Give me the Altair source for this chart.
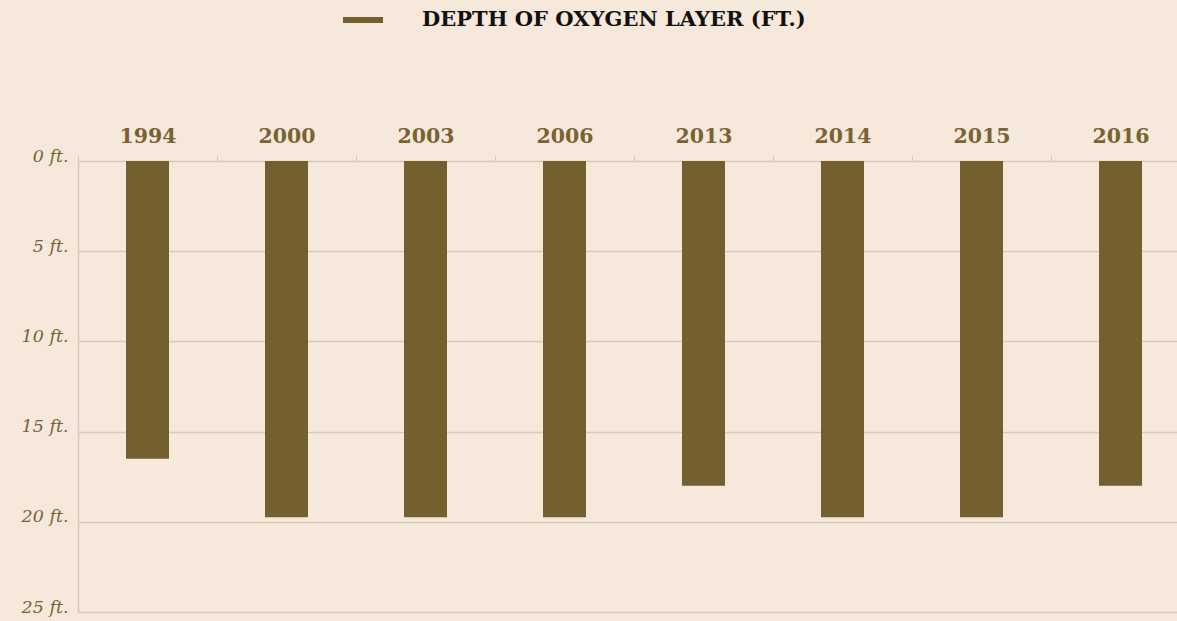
import altair as alt
import pandas as pd

years = ["1994", "2000", "2003", "2006", "2013", "2014", "2015", "2016"]
depths = [16.5, 19.75, 19.75, 19.75, 18, 19.75, 19.75, 18]
series_name = "DEPTH OF OXYGEN LAYER (FT.)"
y_ticks = [0, 5, 10, 15, 20, 25]

df = pd.DataFrame({"year": years, "depth": depths, "series": [series_name] * len(years)})

BAR = "#745f2e"
LABEL = "#7a6232"
GRID = "#d8cab8"
BG = "#f6e8da"

chart = alt.Chart(df).mark_bar(width=43).encode(
    x=alt.X(
        "year:N",
        sort=years,
        scale=alt.Scale(range=[0, 1112], paddingInner=0, paddingOuter=0),
        axis=alt.Axis(
            orient="top",
            title=None,
            labelAngle=0,
            labelFont="DejaVu Serif",
            labelFontWeight="bold",
            labelFontSize=20.5,
            labelColor=LABEL,
            labelBaseline="alphabetic",
            labelPadding=13,
            tickBand="extent",
            tickSize=6,
            tickColor=GRID,
            domain=False,
            grid=False,
        ),
    ),
    y=alt.Y(
        "depth:Q",
        scale=alt.Scale(domain=[0, 25], reverse=True, nice=False),
        axis=alt.Axis(
            title=None,
            values=y_ticks,
            labelExpr="datum.value + ' ft.'",
            labelFont="DejaVu Serif",
            labelFontStyle="italic",
            labelFontSize=17.5,
            labelColor=LABEL,
            labelBaseline="alphabetic",
            labelPadding=10,
            ticks=False,
            domain=True,
            domainColor=GRID,
            domainWidth=1.5,
            grid=True,
            gridColor=GRID,
            gridWidth=1.5,
        ),
    ),
    color=alt.Color(
        "series:N",
        scale=alt.Scale(range=[BAR]),
        legend=alt.Legend(
            title=None,
            orient="none",
            legendX=262,
            legendY=-164,
            symbolType="stroke",
            symbolSize=1600,
            symbolStrokeWidth=6,
            symbolStrokeColor=BAR,
            labelFont="DejaVu Serif",
            labelFontWeight="bold",
            labelFontSize=21,
            labelColor="#111111",
            labelOffset=36,
            labelLimit=800,
        ),
    ),
).properties(
    width=1099,
    height=451,
    background=BG,
    padding={"left": 78, "top": 161, "right": 0, "bottom": 9},
    autosize=alt.AutoSizeParams(type="none"),
).configure_view(stroke=None)

chart.save("out.html", embed_options={"renderer": "svg", "actions": False})
